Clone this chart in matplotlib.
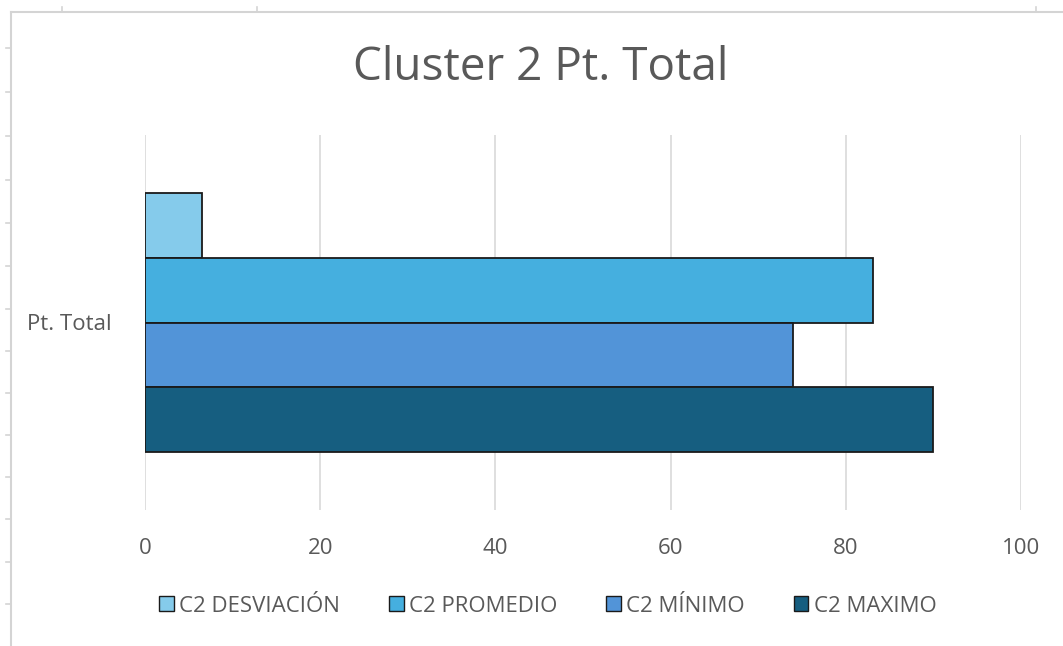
import matplotlib.pyplot as plt
from matplotlib.lines import Line2D
from matplotlib.patches import Patch

plt.rcParams['font.family'] = ['Open Sans', 'DejaVu Sans']

category = "Pt. Total"
series = ["C2 DESVIACIÓN", "C2 PROMEDIO", "C2 MÍNIMO", "C2 MAXIMO"]
values = [6.5, 83.1, 74.0, 90.0]
colors = ["#85cbeb", "#45afdf", "#5294d8", "#165e80"]
xticks = [0, 20, 40, 60, 80, 100]

W, H = 1063, 646
fig = plt.figure(figsize=(W / 100, H / 100), dpi=100)

# plot area in pixels: x 145..1021, y 135..510
ax = fig.add_axes([145 / W, 1 - 510 / H, (1021 - 145) / W, (510 - 135) / H])

band = 259 / 375  # share of category band filled by bars
h = band / len(series)
for i, (name, v, c) in enumerate(zip(series, values, colors)):
    y = (1.5 - i) * h
    ax.barh(y, v, height=h, color=c, edgecolor="#1a1a1a", linewidth=1.3, zorder=3)

ax.set_xlim(0, 100)
ax.set_ylim(-0.5, 0.5)
ax.set_xticks(xticks)
ax.set_yticks([0])
ax.set_yticklabels([category])
ax.xaxis.grid(True, color="#d9d9d9", linewidth=1.2, zorder=0)
ax.set_axisbelow(True)
for s in ax.spines.values():
    s.set_visible(False)
ax.tick_params(axis="x", length=0, pad=20, labelsize=16, labelcolor="#595959")
ax.tick_params(axis="y", length=0, pad=24, labelsize=16, labelcolor="#595959")

fig.text(541 / W, 1 - 68 / H, "Cluster 2 Pt. Total", ha="center", va="center",
         fontsize=33, color="#595959")

handles = [Patch(facecolor=c, edgecolor="#1a1a1a", linewidth=1.0) for c in colors]
fig.legend(handles, series, loc="center", bbox_to_anchor=(548 / W, 1 - 606 / H),
           ncol=4, frameon=False, fontsize=16, labelcolor="#595959",
           handlelength=0.65, handleheight=0.65, handletextpad=0.25, columnspacing=2.2)

# spreadsheet cell border around the chart
gray = "#d4d4d4"
def px(x, y):
    return x / W, 1 - y / H
fig.add_artist(Line2D(*zip(px(11, 12), px(11, H)), color=gray, lw=1.5))
fig.add_artist(Line2D(*zip(px(11, 12), px(W, 12)), color=gray, lw=1.5))
for ty in [48, 92, 136, 180, 223, 266, 309, 351, 393, 435, 477, 519, 562, 604]:
    fig.add_artist(Line2D(*zip(px(6, ty), px(11, ty)), color=gray, lw=1.2))
for tx in [62, 257, 1036]:
    fig.add_artist(Line2D(*zip(px(tx, 7), px(tx, 12)), color=gray, lw=1.2))

fig.savefig("out.png", dpi=100, facecolor="white")
